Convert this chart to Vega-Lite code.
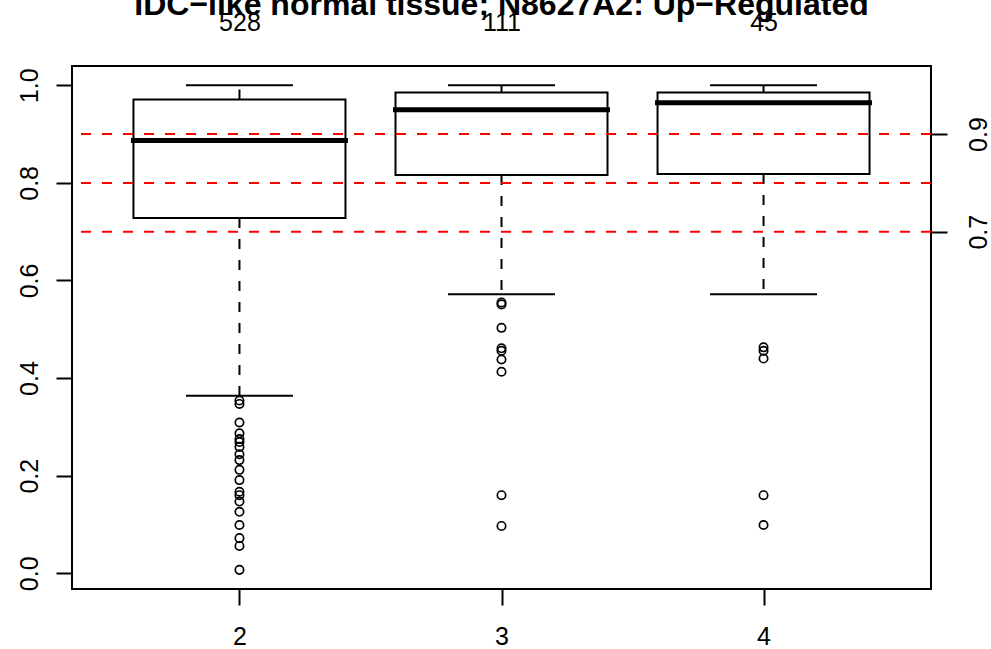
{
  "$schema": "https://vega.github.io/schema/vega-lite/v6.json",
  "width": 859,
  "height": 523,
  "autosize": {"type": "none"},
  "padding": {"left": 72, "top": 66, "right": 60, "bottom": 60},
  "background": "white",
  "title": {
    "text": "IDC−like normal tissue; N8627A2: Up−Regulated",
    "font": "Liberation Sans",
    "fontSize": 32,
    "fontWeight": "bold",
    "color": "black",
    "anchor": "middle",
    "frame": "group",
    "baseline": "alphabetic",
    "offset": -37
  },
  "datasets": {
    "boxes": [
      {"group": 2, "n": 528, "lo": 0.364, "q1": 0.728, "median": 0.887, "q3": 0.971, "hi": 1.0},
      {"group": 3, "n": 111, "lo": 0.572, "q1": 0.816, "median": 0.950, "q3": 0.985, "hi": 1.0},
      {"group": 4, "n": 45, "lo": 0.572, "q1": 0.818, "median": 0.964, "q3": 0.985, "hi": 1.0}
    ],
    "outliers": [
      {"group": 2, "value": 0.354}, {"group": 2, "value": 0.347}, {"group": 2, "value": 0.309},
      {"group": 2, "value": 0.287}, {"group": 2, "value": 0.275}, {"group": 2, "value": 0.269},
      {"group": 2, "value": 0.259}, {"group": 2, "value": 0.244}, {"group": 2, "value": 0.232},
      {"group": 2, "value": 0.212}, {"group": 2, "value": 0.191}, {"group": 2, "value": 0.167},
      {"group": 2, "value": 0.160}, {"group": 2, "value": 0.147}, {"group": 2, "value": 0.126},
      {"group": 2, "value": 0.099}, {"group": 2, "value": 0.072}, {"group": 2, "value": 0.056},
      {"group": 2, "value": 0.007},
      {"group": 3, "value": 0.555}, {"group": 3, "value": 0.551}, {"group": 3, "value": 0.503},
      {"group": 3, "value": 0.461}, {"group": 3, "value": 0.456}, {"group": 3, "value": 0.438},
      {"group": 3, "value": 0.413}, {"group": 3, "value": 0.160}, {"group": 3, "value": 0.097},
      {"group": 4, "value": 0.463}, {"group": 4, "value": 0.456}, {"group": 4, "value": 0.440},
      {"group": 4, "value": 0.160}, {"group": 4, "value": 0.099}
    ],
    "thresholds": [{"h": 0.7}, {"h": 0.8}, {"h": 0.9}]
  },
  "layer": [
    {
      "data": {"name": "boxes"},
      "mark": {"type": "rule", "color": "black", "strokeWidth": 2, "strokeDash": [10, 11]},
      "encoding": {
        "x": {"field": "group", "type": "quantitative", "scale": {"domain": [1.38, 4.62], "nice": false, "zero": false}, "axis": null},
        "y": {"field": "q3", "type": "quantitative", "scale": {"domain": [-0.0322, 1.0395], "nice": false, "zero": false}, "axis": null},
        "y2": {"field": "hi"}
      }
    },
    {
      "data": {"name": "boxes"},
      "mark": {"type": "rule", "color": "black", "strokeWidth": 2, "strokeDash": [10, 11]},
      "encoding": {
        "x": {"field": "group", "type": "quantitative", "scale": {"domain": [1.38, 4.62], "nice": false, "zero": false}, "axis": null},
        "y": {"field": "q1", "type": "quantitative", "scale": {"domain": [-0.0322, 1.0395], "nice": false, "zero": false}, "axis": null},
        "y2": {"field": "lo"}
      }
    },
    {
      "data": {"name": "boxes"},
      "mark": {"type": "tick", "orient": "horizontal", "size": 107, "thickness": 2, "color": "black", "opacity": 1},
      "encoding": {
        "x": {"field": "group", "type": "quantitative", "scale": {"domain": [1.38, 4.62], "nice": false, "zero": false}, "axis": null},
        "y": {"field": "hi", "type": "quantitative", "scale": {"domain": [-0.0322, 1.0395], "nice": false, "zero": false}, "axis": null}
      }
    },
    {
      "data": {"name": "boxes"},
      "mark": {"type": "tick", "orient": "horizontal", "size": 107, "thickness": 2, "color": "black", "opacity": 1},
      "encoding": {
        "x": {"field": "group", "type": "quantitative", "scale": {"domain": [1.38, 4.62], "nice": false, "zero": false}, "axis": null},
        "y": {"field": "lo", "type": "quantitative", "scale": {"domain": [-0.0322, 1.0395], "nice": false, "zero": false}, "axis": null}
      }
    },
    {
      "data": {"name": "boxes"},
      "mark": {"type": "bar", "orient": "vertical", "width": 212, "fill": "white", "stroke": "black", "strokeWidth": 2},
      "encoding": {
        "x": {
          "field": "group", "type": "quantitative",
          "scale": {"domain": [1.38, 4.62], "nice": false, "zero": false},
          "axis": {
            "orient": "bottom", "values": [2, 3, 4], "format": "d", "title": null,
            "labelAngle": 0, "labelAlign": "center", "labelBaseline": "top", "labelPadding": 19,
            "tickSize": 16, "tickWidth": 2, "tickColor": "black", "domain": false, "grid": false,
            "labelFont": "Liberation Sans", "labelFontSize": 25, "labelColor": "black",
            "labelOverlap": false, "labelFlush": false
          }
        },
        "y": {
          "field": "q1", "type": "quantitative",
          "scale": {"domain": [-0.0322, 1.0395], "nice": false, "zero": false},
          "axis": {
            "orient": "left", "values": [0, 0.2, 0.4, 0.6, 0.8, 1.0], "format": ".1f", "title": null,
            "labelAngle": 270, "labelAlign": "center", "labelBaseline": "alphabetic", "labelPadding": 19,
            "tickSize": 16, "tickWidth": 2, "tickColor": "black", "domain": false, "grid": false,
            "labelFont": "Liberation Sans", "labelFontSize": 25, "labelColor": "black",
            "labelOverlap": false, "labelFlush": false
          }
        },
        "y2": {"field": "q3"}
      }
    },
    {
      "data": {"name": "boxes"},
      "mark": {"type": "tick", "orient": "horizontal", "size": 217, "thickness": 5, "color": "black", "opacity": 1},
      "encoding": {
        "x": {
          "field": "group", "type": "quantitative",
          "scale": {"domain": [1.38, 4.62], "nice": false, "zero": false},
          "axis": {
            "orient": "top", "values": [2, 3, 4], "title": null,
            "labelExpr": "datum.value == 2 ? '528' : datum.value == 3 ? '111' : '45'",
            "labelAngle": 0, "labelAlign": "center", "labelBaseline": "alphabetic", "labelPadding": 36,
            "ticks": false, "tickSize": 0, "domain": false, "grid": false,
            "labelFont": "Liberation Sans", "labelFontSize": 25, "labelColor": "black",
            "labelOverlap": false, "labelFlush": false
          }
        },
        "y": {"field": "median", "type": "quantitative", "scale": {"domain": [-0.0322, 1.0395], "nice": false, "zero": false}, "axis": null}
      }
    },
    {
      "data": {"name": "outliers"},
      "mark": {"type": "point", "shape": "circle", "filled": false, "stroke": "black", "strokeWidth": 1.7, "size": 70, "opacity": 1},
      "encoding": {
        "x": {"field": "group", "type": "quantitative", "scale": {"domain": [1.38, 4.62], "nice": false, "zero": false}, "axis": null},
        "y": {"field": "value", "type": "quantitative", "scale": {"domain": [-0.0322, 1.0395], "nice": false, "zero": false}, "axis": null}
      }
    },
    {
      "data": {"name": "thresholds"},
      "mark": {"type": "rule", "color": "#FF0000", "strokeWidth": 2, "strokeDash": [10, 11]},
      "encoding": {
        "y": {
          "field": "h", "type": "quantitative",
          "scale": {"domain": [-0.0322, 1.0395], "nice": false, "zero": false},
          "axis": {
            "orient": "right", "values": [0.7, 0.9], "format": ".1f", "title": null,
            "labelAngle": 270, "labelAlign": "center", "labelBaseline": "top", "labelPadding": 19,
            "tickSize": 16, "tickWidth": 2, "tickColor": "black", "domain": false, "grid": false,
            "labelFont": "Liberation Sans", "labelFontSize": 25, "labelColor": "black",
            "labelOverlap": false, "labelFlush": false
          }
        }
      }
    }
  ],
  "resolve": {"axis": {"x": "independent", "y": "independent"}},
  "config": {
    "view": {"stroke": "black", "strokeWidth": 2, "fill": "white"}
  }
}
